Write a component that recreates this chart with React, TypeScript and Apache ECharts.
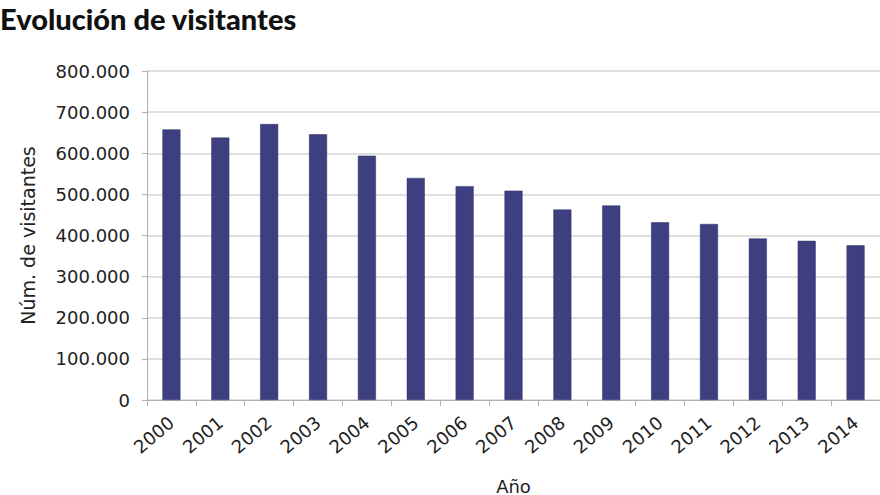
import React, { useEffect, useRef } from "react";
import * as echarts from "echarts";

const years = ["2000", "2001", "2002", "2003", "2004", "2005", "2006", "2007", "2008", "2009", "2010", "2011", "2012", "2013", "2014"];
const visitors = [658000, 638000, 671000, 646000, 594000, 540000, 520000, 509000, 463000, 473000, 432000, 428000, 393000, 387000, 376000];

const titleText = "Evolución de visitantes";
const yName = "Núm. de visitantes";
const xName = "Año";

const fmt = (v: number) => {
  if (v === 0) return "0";
  const s = String(Math.round(v));
  return s.replace(/\B(?=(\d{3})+(?!\d))/g, ".");
};

export default function App() {
  const ref = useRef<HTMLDivElement>(null);
  useEffect(() => {
    if (!ref.current) return;
    const chart = echarts.init(ref.current, undefined, { renderer: "svg" });
    const font = "DejaVu Sans";
    chart.setOption({
      animation: false,
      backgroundColor: "#ffffff",
      graphic: [
        {
          type: "text",
          left: 0,
          top: 4,
          style: {
            text: titleText,
            font: "900 29px Lato",
            fill: "#111111",
          },
        },
      ],
      grid: { left: 147, right: 0, top: 71, bottom: 95, containLabel: false, outerBoundsMode: "none" },
      xAxis: {
        type: "category",
        data: years,
        name: xName,
        nameLocation: "middle",
        nameGap: 76,
        nameTextStyle: { fontFamily: font, fontSize: 18, lineHeight: 20, color: "#222" },
        axisLine: { show: true, lineStyle: { color: "#b0b0b0" } },
        axisTick: { show: true, alignWithLabel: false, length: 6, lineStyle: { color: "#b0b0b0" } },
        axisLabel: {
          rotate: 40,
          margin: 20,
          fontFamily: font,
          fontSize: 18,
          color: "#222",
          interval: 0,
        },
      },
      yAxis: {
        type: "value",
        min: 0,
        max: 800000,
        interval: 100000,
        name: yName,
        nameLocation: "middle",
        nameGap: 110,
        nameTextStyle: { fontFamily: font, fontSize: 19, color: "#222" },
        axisLine: { show: true, lineStyle: { color: "#b0b0b0" } },
        axisTick: { show: true, length: 5, lineStyle: { color: "#b0b0b0" } },
        axisLabel: {
          fontFamily: font,
          fontSize: 18,
          color: "#222",
          margin: 17,
          formatter: (v: number) => fmt(v),
        },
        splitLine: { show: true, lineStyle: { color: "#d4d4d4", width: 1.5 } },
      },
      series: [
        {
          type: "bar",
          data: visitors,
          barWidth: 18,
          itemStyle: { color: "#3e3f80", borderColor: "#2e2f66", borderWidth: 0.5 },
        },
      ],
    });
    return () => chart.dispose();
  }, []);
  return (
    <div
      ref={ref}
      style={{ position: "fixed", left: 0, top: 0, width: 880, height: 495 }}
    />
  );
}
